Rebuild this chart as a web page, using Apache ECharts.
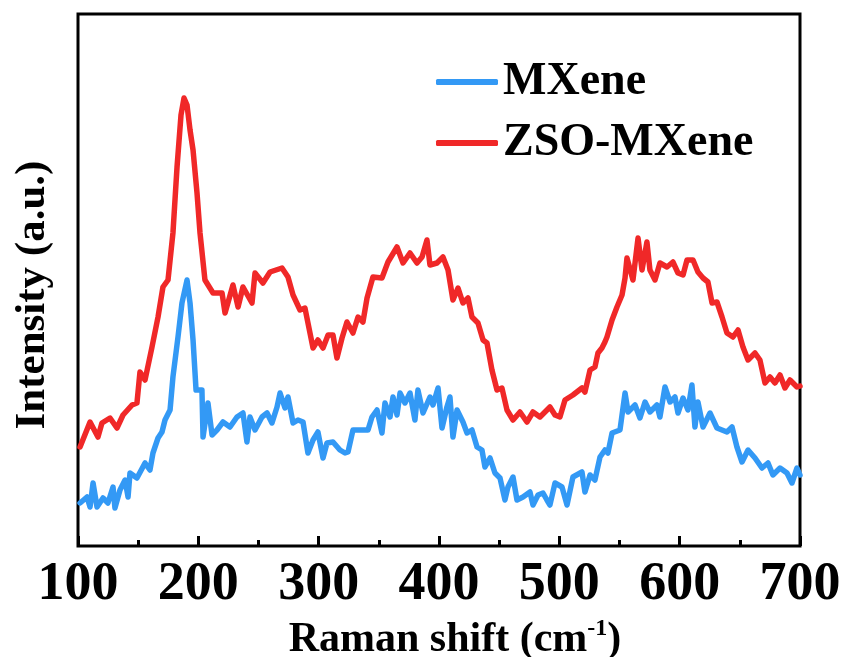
<!DOCTYPE html>
<html>
<head>
<meta charset="utf-8">
<script src="https://cdn.jsdelivr.net/npm/echarts@6/dist/echarts.min.js"></script>
<style>
  html, body { margin: 0; padding: 0; background: #fff; }
  #dom { width: 845px; height: 657px; }
</style>
</head>
<body>
<div id="dom"></div>
<script>
// Raman shift (cm-1) and intensity (a.u.)
var shiftZso = [101.7, 110.0, 116.6, 119.9, 126.6, 132.4, 137.4, 144.9, 149.0, 151.5, 155.7, 161.5, 166.5, 170.6, 174.8, 178.9, 182.3, 185.6, 188.1, 190.6, 193.1, 195.6, 198.9, 201.4, 205.5, 212.2, 219.7, 222.2, 228.8, 233.0, 237.1, 244.6, 247.1, 253.7, 259.6, 269.5, 274.5, 278.7, 284.5, 288.6, 295.3, 299.4, 303.6, 307.8, 311.9, 315.2, 319.4, 323.5, 328.5, 332.7, 336.8, 340.2, 345.1, 352.6, 357.6, 365.1, 370.1, 375.9, 381.7, 385.9, 390.0, 392.5, 398.3, 403.3, 407.5, 411.6, 415.8, 419.9, 424.1, 427.4, 432.4, 436.6, 439.9, 444.0, 448.2, 452.3, 456.5, 461.5, 467.3, 473.1, 478.1, 483.9, 492.2, 496.4, 500.5, 504.7, 511.3, 518.8, 521.3, 525.5, 529.6, 532.1, 535.4, 537.9, 539.6, 543.8, 547.9, 552.1, 554.6, 556.2, 561.2, 565.4, 568.7, 572.8, 575.3, 579.5, 583.6, 589.5, 594.4, 598.6, 602.8, 606.1, 611.1, 615.2, 619.4, 623.5, 626.9, 631.0, 635.2, 639.3, 644.3, 648.5, 652.6, 656.8, 662.6, 666.7, 670.9, 675.1, 679.2, 683.4, 687.5, 691.7, 697.5, 700.0];
var intZso = [99, 124, 109, 123, 128, 118, 131, 141, 143, 174, 166, 199, 229, 259, 266, 313, 379, 431, 448, 441, 416, 396, 353, 313, 266, 253, 253, 233, 261, 239, 259, 243, 273, 263, 274, 278, 269, 251, 236, 238, 198, 206, 198, 211, 211, 188, 208, 224, 213, 229, 224, 248, 269, 268, 284, 299, 283, 293, 283, 289, 306, 281, 283, 289, 276, 246, 258, 243, 248, 229, 223, 206, 203, 176, 156, 158, 136, 126, 134, 124, 134, 129, 139, 131, 129, 146, 151, 158, 154, 176, 179, 193, 198, 204, 209, 226, 239, 251, 268, 288, 266, 308, 276, 304, 276, 266, 283, 279, 284, 273, 271, 286, 286, 274, 268, 264, 243, 244, 229, 213, 209, 216, 199, 186, 193, 186, 163, 169, 163, 171, 158, 166, 159, 160];

var shiftMx = [101.7, 107.5, 110.0, 112.5, 115.8, 120.8, 124.9, 129.1, 130.7, 134.9, 139.1, 141.6, 143.2, 149.0, 155.7, 159.8, 162.3, 166.5, 169.8, 172.3, 176.5, 178.9, 183.1, 186.4, 190.6, 193.1, 195.6, 198.1, 203.0, 203.9, 208.0, 211.4, 215.5, 220.5, 226.3, 232.1, 237.1, 240.4, 242.9, 247.1, 252.9, 257.1, 261.2, 265.4, 267.9, 272.0, 274.5, 278.7, 282.8, 287.0, 291.1, 295.3, 299.4, 303.6, 306.9, 311.9, 317.7, 321.9, 324.4, 328.5, 336.8, 341.0, 344.3, 348.5, 352.6, 355.1, 359.3, 361.8, 365.1, 367.6, 371.7, 375.9, 380.0, 382.5, 386.7, 392.5, 395.0, 399.2, 402.5, 406.6, 409.1, 411.6, 415.0, 419.9, 423.3, 427.4, 431.6, 435.7, 438.2, 442.4, 446.5, 450.7, 454.8, 457.3, 461.5, 464.8, 469.8, 475.6, 478.1, 482.3, 486.4, 489.7, 492.2, 496.4, 502.2, 506.4, 511.3, 518.8, 521.3, 525.5, 529.6, 533.8, 537.9, 540.4, 543.8, 550.4, 554.6, 557.1, 562.9, 567.0, 571.2, 575.3, 581.1, 583.6, 587.8, 592.0, 596.1, 598.6, 602.8, 606.9, 610.2, 612.7, 615.2, 619.4, 625.2, 631.0, 639.3, 643.5, 647.6, 651.8, 656.8, 662.6, 668.4, 673.4, 677.5, 683.4, 689.2, 693.3, 697.5, 700.0];
var intMx = [43, 49, 39, 63, 39, 48, 43, 59, 38, 56, 66, 49, 73, 68, 83, 76, 93, 108, 114, 126, 136, 169, 209, 243, 266, 243, 206, 156, 156, 109, 143, 111, 116, 124, 119, 129, 133, 104, 129, 116, 129, 133, 123, 139, 153, 138, 149, 123, 126, 124, 93, 106, 114, 88, 103, 104, 96, 93, 94, 116, 116, 116, 129, 136, 113, 143, 129, 149, 131, 153, 143, 153, 126, 156, 133, 149, 141, 158, 118, 139, 149, 109, 136, 124, 113, 116, 99, 96, 79, 88, 73, 68, 46, 59, 69, 46, 49, 54, 41, 51, 53, 46, 41, 63, 59, 41, 69, 74, 54, 71, 66, 89, 96, 93, 113, 116, 153, 134, 141, 128, 144, 134, 141, 129, 159, 144, 149, 133, 148, 136, 161, 119, 144, 119, 133, 118, 114, 119, 99, 84, 96, 88, 78, 83, 71, 78, 73, 63, 78, 71];

var xTicks = [100, 200, 300, 400, 500, 600, 700];

function pairs(xs, ys) {
  var list = [];
  for (var i = 0; i < xs.length; i++) {
    list.push([xs[i], ys[i]]);
  }
  return list;
}

var myChart = echarts.init(document.getElementById('dom'));
var serif = '"Liberation Serif", "DejaVu Serif", serif';

var option = {
  backgroundColor: '#fff',
  animation: false,
  grid: {
    left: 78,
    right: 45,
    top: 14,
    bottom: 111,
    outerBoundsMode: 'none',
    show: true,
    borderColor: '#000',
    borderWidth: 3,
    backgroundColor: 'transparent'
  },
  legend: {
    orient: 'vertical',
    left: 431,
    top: 54,
    icon: 'roundRect',
    itemWidth: 62,
    itemHeight: 6,
    itemGap: 15,
    data: ['MXene', 'ZSO-MXene'],
    textStyle: {
      fontFamily: serif,
      fontWeight: 'bold',
      fontSize: 46,
      lineHeight: 46,
      color: '#000'
    }
  },
  xAxis: {
    type: 'value',
    min: xTicks[0],
    max: xTicks[xTicks.length - 1],
    interval: 100,
    name: 'Raman shift (cm{sup|-1})',
    nameLocation: 'middle',
    nameGap: 70,
    nameTextStyle: {
      fontFamily: serif,
      fontWeight: 'bold',
      fontSize: 42,
      color: '#000',
      padding: [0, 0, 0, 32],
      rich: {
        sup: {
          fontFamily: serif,
          fontWeight: 'bold',
          fontSize: 24,
          color: '#000',
          padding: [0, 0, 22, 0]
        }
      }
    },
    axisLine: { show: false },
    axisTick: {
      show: true,
      inside: true,
      length: 10,
      lineStyle: { color: '#000', width: 3 }
    },
    minorTick: {
      show: true,
      splitNumber: 2,
      length: 6,
      lineStyle: { color: '#000', width: 3 }
    },
    splitLine: { show: false },
    axisLabel: {
      margin: 12,
      fontFamily: serif,
      fontWeight: 'bold',
      fontSize: 54,
      color: '#000'
    }
  },
  yAxis: {
    type: 'value',
    min: 0,
    max: 532,
    name: 'Intensity (a.u.)',
    nameLocation: 'middle',
    nameGap: 24,
    nameTextStyle: {
      fontFamily: serif,
      fontWeight: 'bold',
      fontSize: 43,
      color: '#000',
      padding: [0, 30, 0, 0]
    },
    axisLine: { show: false },
    axisTick: { show: false },
    axisLabel: { show: false },
    splitLine: { show: false }
  },
  series: [{
    name: 'MXene',
    type: 'line',
    showSymbol: false,
    color: '#3399f5',
    lineStyle: { width: 5.5, cap: 'round', join: 'round' },
    data: pairs(shiftMx, intMx)
  }, {
    name: 'ZSO-MXene',
    type: 'line',
    showSymbol: false,
    color: '#f02828',
    lineStyle: { width: 5.5, cap: 'round', join: 'round' },
    data: pairs(shiftZso, intZso)
  }]
};
myChart.setOption(option);
</script>
</body>
</html>
